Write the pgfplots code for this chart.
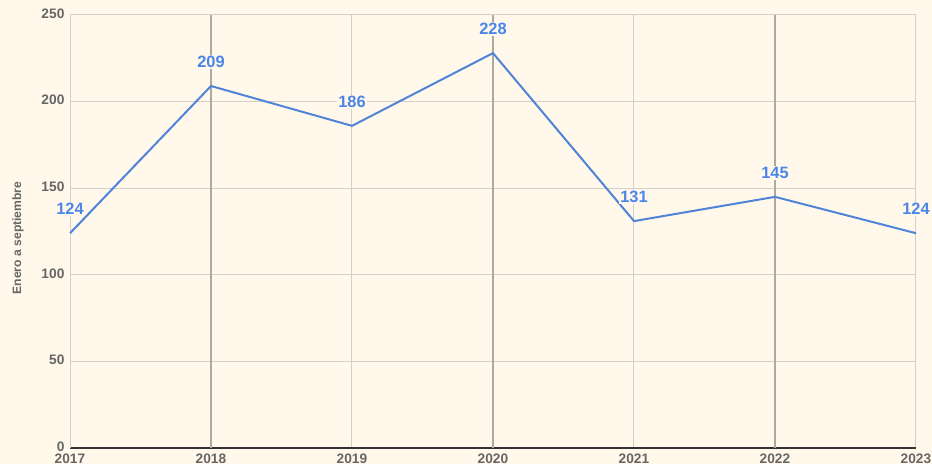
\documentclass[border=0pt]{standalone}
\usepackage{pgfplots}
\pgfplotsset{compat=1.18}
\usepackage{fontspec}
\setmainfont{Liberation Sans}
\definecolor{bg}{HTML}{FFF8EB}
\definecolor{lineblue}{HTML}{4F84D8}
\definecolor{lblblue}{HTML}{4A86E8}
\definecolor{tickgray}{HTML}{666666}
\definecolor{gridlight}{HTML}{D2D0CA}
\definecolor{griddark}{HTML}{ABAAA2}
\begin{document}
\begin{tikzpicture}
\useasboundingbox[fill=bg] (0,0) rectangle (699pt,348pt);
\begin{axis}[
  at={(52.5pt,12pt)}, anchor=south west,
  scale only axis, width=634.5pt, height=324.75pt,
  xmin=2017, xmax=2023, ymin=0, ymax=250,
  xtick={2017,...,2023}, ytick={0,50,...,250},
  /pgf/number format/assume math mode=true,
  /pgf/number format/set thousands separator={},
  xticklabel style={font=\fontsize{10.3}{12}\selectfont\bfseries, text=tickgray, anchor=north, inner sep=0pt, yshift=-4pt},
  yticklabel style={font=\fontsize{10.3}{12}\selectfont\bfseries, text=tickgray, anchor=east, inner sep=0pt, xshift=-4pt, yshift=1pt},
  major tick length=0pt,
  axis x line*=bottom, axis y line*=left,
  x axis line style={draw=black!80, line width=0.85pt, -},
  y axis line style={draw=gridlight, line width=0.75pt, -},
  xmajorgrids, ymajorgrids,
  major grid style={draw=gridlight, line width=0.75pt},
  extra x ticks={2018,2020,2022}, extra x tick labels={},
  extra x tick style={grid=major, major grid style={draw=griddark, line width=0.9pt}},
  ylabel={Enero a septiembre},
  ylabel style={at={(axis description cs:0,0.485)}, anchor=center, yshift=39pt, font=\fontsize{9.1}{11}\selectfont\bfseries, text=tickgray},
  clip=false,
  nodes near coords,
  nodes near coords style={font=\fontsize{12.3}{14}\selectfont\bfseries, text=lblblue, fill=bg, inner sep=0.8pt, anchor=center, yshift=18pt,
    /pgf/number format/assume math mode=true},
]
\addplot[lineblue, line width=1.5pt, mark=none] coordinates {
 (2017,124) (2018,209) (2019,186) (2020,228) (2021,131) (2022,145) (2023,124)
};
\end{axis}
\end{tikzpicture}
\end{document}
